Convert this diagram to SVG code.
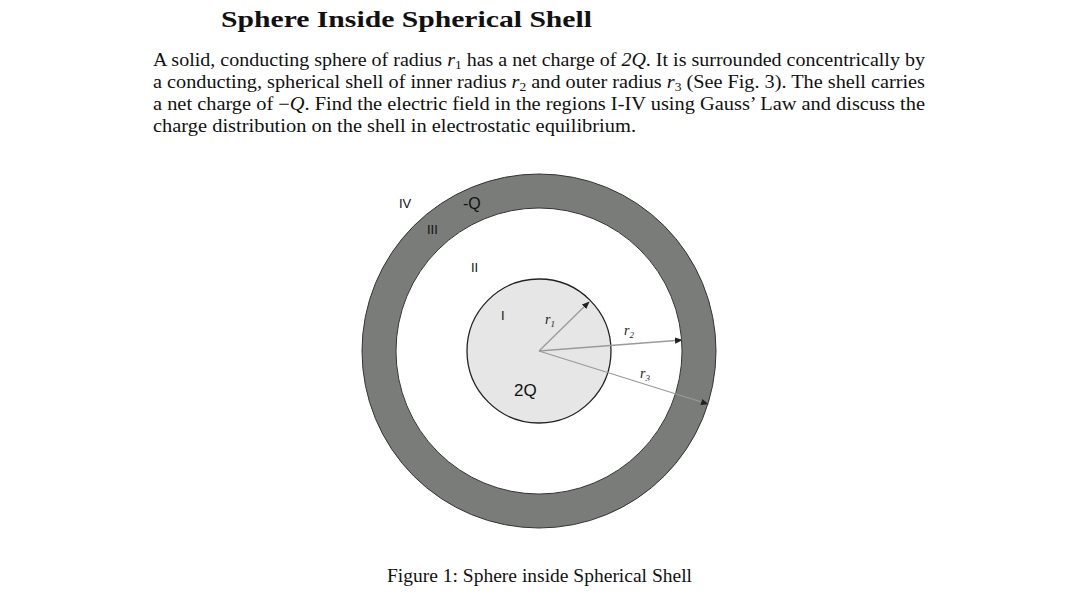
<svg xmlns="http://www.w3.org/2000/svg" width="1080" height="614" viewBox="0 0 1080 614">
<style>
.t{font-family:"Liberation Serif",serif;fill:#111}
.p{font-size:18px}
.s{font-family:"Liberation Sans",sans-serif;font-size:13px;fill:#111}
.r{font-family:"Liberation Serif",serif;font-style:italic;font-size:14px;fill:#222}
.a{stroke:#9a9a9a;stroke-width:1.3;fill:none;marker-end:url(#ah)}
</style>
<defs><marker id="ah" viewBox="0 0 10 10" refX="9" refY="5" markerWidth="6" markerHeight="6" orient="auto"><path d="M0,1L10,5L0,9z" fill="#222"/></marker></defs>
<rect width="1080" height="614" fill="#fff"/>
<text class="t" x="221" y="27" font-size="24" font-weight="bold" textLength="371" lengthAdjust="spacingAndGlyphs">Sphere Inside Spherical Shell</text>
<text class="t p" x="153" y="66" textLength="772" lengthAdjust="spacingAndGlyphs">A solid, conducting sphere of radius <tspan font-style="italic">r</tspan><tspan style="font-size:12px" dy="3">1</tspan><tspan dy="-3"> has a net charge of </tspan><tspan font-style="italic">2Q</tspan>. It is surrounded concentrically by</text>
<text class="t p" x="153" y="88" textLength="772" lengthAdjust="spacingAndGlyphs">a conducting, spherical shell of inner radius <tspan font-style="italic">r</tspan><tspan style="font-size:12px" dy="3">2</tspan><tspan dy="-3"> and outer radius </tspan><tspan font-style="italic">r</tspan><tspan style="font-size:12px" dy="3">3</tspan><tspan dy="-3"> (See Fig. 3). The shell carries</tspan></text>
<text class="t p" x="153" y="110" textLength="772" lengthAdjust="spacingAndGlyphs">a net charge of −<tspan font-style="italic">Q</tspan>. Find the electric field in the regions I-IV using Gauss’ Law and discuss the</text>
<text class="t p" x="153" y="132" textLength="483" lengthAdjust="spacingAndGlyphs">charge distribution on the shell in electrostatic equilibrium.</text>
<g id="shell"><circle cx="539" cy="351" r="160" fill="none" stroke="#7a7c7a" stroke-width="34"/><circle cx="539" cy="351" r="177" fill="none" stroke="#333" stroke-width="1"/><circle cx="539" cy="351" r="143" fill="#fff" stroke="#333" stroke-width="1"/></g>
<g id="sphere"><circle cx="539" cy="351" r="72" fill="#e6e6e6" stroke="#222" stroke-width="1.3"/></g>
<g id="connectors">
<path class="a" d="M539,351L589,302"/>
<path class="a" d="M539,351L682,340"/>
<path class="a" d="M539,351L708,404"/>
</g>
<g id="labels">
<text class="s" x="399" y="208">IV</text>
<text class="s" x="463" y="209" style="font-size:16px">-Q</text>
<text class="s" x="427" y="234">III</text>
<text class="s" x="471" y="272">II</text>
<text class="s" x="501" y="320">I</text>
<text class="r" x="545" y="324">r<tspan style="font-size:9px" dy="3">1</tspan></text>
<text class="r" x="624" y="335">r<tspan style="font-size:9px" dy="3">2</tspan></text>
<text class="r" x="640" y="378">r<tspan style="font-size:9px" dy="3">3</tspan></text>
<text class="s" x="514" y="396" style="font-size:17px">2Q</text>
</g>
<text class="t p" x="387" y="582" textLength="305" lengthAdjust="spacingAndGlyphs">Figure 1: Sphere inside Spherical Shell</text>
</svg>
